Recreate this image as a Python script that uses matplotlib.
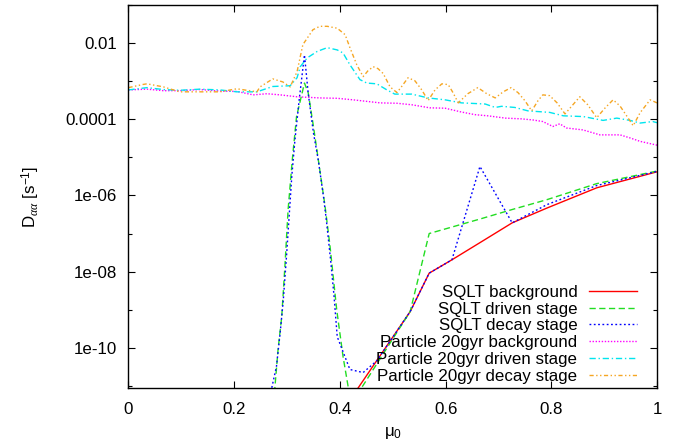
import numpy as np
import matplotlib
matplotlib.use('Agg')
import matplotlib.pyplot as plt
from matplotlib.ticker import FixedLocator, FixedFormatter, NullFormatter

plt.rcParams['font.family'] = ['Liberation Sans', 'DejaVu Sans']
plt.rcParams['mathtext.fontset'] = 'custom'
plt.rcParams['mathtext.rm'] = 'Liberation Sans'
plt.rcParams['mathtext.it'] = 'Liberation Serif:italic'

# --- data (values are log10 of D_aa in s^-1) ---
sqlt_bg_mu = [0.42, 0.533, 0.569, 0.612, 0.665, 0.726, 0.792, 0.886, 1.0]
sqlt_bg_log = [-11.35, -9.05, -8.04, -7.69, -7.24, -6.72, -6.33, -5.80, -5.38]

sqlt_drv_mu = [0.273, 0.277, 0.283, 0.290, 0.296, 0.302, 0.310, 0.318, 0.333,
               0.340, 0.350, 0.362, 0.372, 0.381, 0.394, 0.406, 0.416, 0.425,
               0.533, 0.569, 0.612, 0.665, 0.726, 0.792, 0.886, 1.0]
sqlt_drv_log = [-11.7, -11.05, -10.05, -9.18, -7.86, -6.38, -5.06, -3.93, -3.05,
                -3.30, -4.19, -5.33, -6.29, -7.29, -9.0, -10.23, -11.05, -11.4,
                -9.05, -7.00, -6.83, -6.62, -6.37, -6.11, -5.69, -5.36]

sqlt_dec_mu = [0.262, 0.271, 0.280, 0.287, 0.293, 0.299, 0.304, 0.309, 0.315,
               0.323, 0.333, 0.340, 0.350, 0.359, 0.369, 0.375, 0.383, 0.389,
               0.395, 0.419, 0.444, 0.470, 0.533, 0.569, 0.612, 0.665, 0.726,
               0.792, 0.886, 1.0]
sqlt_dec_log = [-11.6, -11.06, -10.49, -9.61, -8.74, -7.60, -6.55, -5.50, -4.54,
                -3.49, -2.31, -3.31, -4.36, -5.06, -6.03, -6.72, -7.77, -8.65,
                -9.71, -10.57, -10.65, -10.34, -9.05, -8.04, -7.69, -5.24, -6.72,
                -6.24, -5.74, -5.37]

part_bg_mu = [0.0, 0.035, 0.066, 0.097, 0.135, 0.173, 0.205, 0.236, 0.262, 0.287,
              0.319, 0.362, 0.395, 0.425, 0.476, 0.508, 0.536, 0.570, 0.599, 0.630,
              0.656, 0.680, 0.713, 0.744, 0.766, 0.784, 0.803, 0.816, 0.829, 0.860,
              0.892, 0.930, 0.949, 0.968, 1.0]
part_bg_log = [-3.23, -3.21, -3.25, -3.25, -3.22, -3.26, -3.27, -3.36, -3.33, -3.36,
               -3.41, -3.44, -3.45, -3.49, -3.57, -3.58, -3.62, -3.70, -3.71, -3.81,
               -3.88, -3.91, -3.97, -3.99, -4.02, -4.06, -4.19, -4.12, -4.23, -4.28,
               -4.41, -4.41, -4.49, -4.58, -4.68]

part_drv_mu = [0.0, 0.035, 0.066, 0.097, 0.135, 0.173, 0.205, 0.243, 0.273, 0.306,
               0.319, 0.325, 0.338, 0.357, 0.376, 0.395, 0.406, 0.419, 0.438, 0.451,
               0.470, 0.489, 0.504, 0.536, 0.567, 0.599, 0.630, 0.675, 0.694, 0.706,
               0.731, 0.756, 0.797, 0.823, 0.861, 0.898, 0.924, 0.949, 0.968, 0.992, 1.0]
part_drv_log = [-3.23, -3.17, -3.22, -3.24, -3.21, -3.23, -3.28, -3.28, -3.14, -3.12,
                -2.91, -2.62, -2.39, -2.22, -2.12, -2.18, -2.26, -2.57, -2.96, -3.05,
                -3.07, -3.23, -3.34, -3.34, -3.44, -3.49, -3.57, -3.60, -3.69, -3.66,
                -3.69, -3.78, -3.82, -3.91, -3.93, -4.03, -3.97, -4.03, -4.10, -4.06, -4.09]

part_dec_mu = [0.0, 0.026, 0.035, 0.066, 0.097, 0.173, 0.205, 0.243, 0.249, 0.273,
               0.292, 0.306, 0.319, 0.330, 0.349, 0.362, 0.376, 0.395, 0.410, 0.419,
               0.432, 0.444, 0.453, 0.463, 0.472, 0.482, 0.495, 0.508, 0.518, 0.529,
               0.542, 0.555, 0.567, 0.580, 0.593, 0.605, 0.614, 0.624, 0.642, 0.661,
               0.678, 0.694, 0.709, 0.724, 0.737, 0.750, 0.763, 0.775, 0.784, 0.797,
               0.811, 0.826, 0.839, 0.854, 0.869, 0.886, 0.902, 0.917, 0.930, 0.945,
               0.955, 0.968, 0.987, 1.0]
part_dec_log = [-3.17, -3.09, -3.07, -3.15, -3.28, -3.28, -3.20, -3.28, -3.15, -2.94,
                -3.02, -3.15, -2.75, -2.04, -1.65, -1.56, -1.56, -1.61, -1.78, -2.12,
                -2.57, -2.88, -2.73, -2.62, -2.67, -2.80, -3.15, -3.30, -3.12, -2.91,
                -2.99, -3.23, -3.51, -3.23, -3.07, -3.09, -3.30, -3.57, -3.33, -3.17,
                -3.33, -3.44, -3.28, -3.17, -3.30, -3.51, -3.78, -3.51, -3.36, -3.38,
                -3.57, -3.86, -3.65, -3.41, -3.62, -3.96, -3.70, -3.49, -3.65, -3.96,
                -4.17, -3.83, -3.49, -3.57]

labels = ['SQLT background', 'SQLT driven stage', 'SQLT decay stage',
          'Particle 20gyr background', 'Particle 20gyr driven stage',
          'Particle 20gyr decay stage']

xtick_vals = [0, 0.2, 0.4, 0.6, 0.8, 1.0]
xtick_labels = ['0', '0.2', '0.4', '0.6', '0.8', '1']
ytick_vals = [1e-2, 1e-4, 1e-6, 1e-8, 1e-10]
ytick_labels = ['0.01', '0.0001', '1e-06', '1e-08', '1e-10']
ytick_minor = [1e-1, 1e-3, 1e-5, 1e-7, 1e-9, 1e-11]

series = [
    (sqlt_bg_mu, sqlt_bg_log, '#ff0000', '-'),
    (sqlt_drv_mu, sqlt_drv_log, '#22dd22', (0, (4.5, 2.5))),
    (sqlt_dec_mu, sqlt_dec_log, '#0000ff', (0, (1.3, 1.8))),
    (part_bg_mu, part_bg_log, '#ff00ff', (0, (1.0, 1.2))),
    (part_drv_mu, part_drv_log, '#00e5ee', (0, (4.5, 2, 1, 2))),
    (part_dec_mu, part_dec_log, '#f5a623', (0, (3, 1.8, 1, 1.8, 1, 1.8))),
]

FS = 12.2

fig = plt.figure(figsize=(6.83, 4.45), dpi=100)
ax = fig.add_axes([0.1881, 0.1281, 0.7738, 0.8607])

for (mu, lg, color, ls), lab in zip(series, labels):
    ax.plot(mu, 10.0 ** np.array(lg), color=color, linestyle=ls,
            linewidth=1.0, label=lab)

ax.set_yscale('log')
ax.set_xlim(0, 1)
ax.set_ylim(8.8e-12, 0.1)

ax.xaxis.set_major_locator(FixedLocator(xtick_vals))
ax.xaxis.set_major_formatter(FixedFormatter(xtick_labels))
ax.yaxis.set_major_locator(FixedLocator(ytick_vals))
ax.yaxis.set_major_formatter(FixedFormatter(ytick_labels))
ax.yaxis.set_minor_locator(FixedLocator(ytick_minor))
ax.yaxis.set_minor_formatter(NullFormatter())

ax.tick_params(axis='both', which='both', direction='in', top=True, right=True,
               labelsize=FS, width=0.8)
ax.tick_params(axis='x', which='major', length=5, pad=10)
ax.tick_params(axis='y', which='major', length=5, pad=8)
ax.tick_params(axis='y', which='minor', length=3)
for sp in ax.spines.values():
    sp.set_linewidth(1.0)

ax.set_xlabel('\u03bc$_0$', fontsize=FS, labelpad=6)
ax.set_ylabel(r'D$_{\alpha\alpha}$ [s$^{-1}$]', fontsize=FS, labelpad=17)

ax.legend(loc='lower right', bbox_to_anchor=(0.965, 0.006), frameon=False,
          markerfirst=False, fontsize=FS, handlelength=2.8,
          handletextpad=0.7, labelspacing=0.11, borderaxespad=0, borderpad=0.1)

fig.savefig('out.png', dpi=100)
